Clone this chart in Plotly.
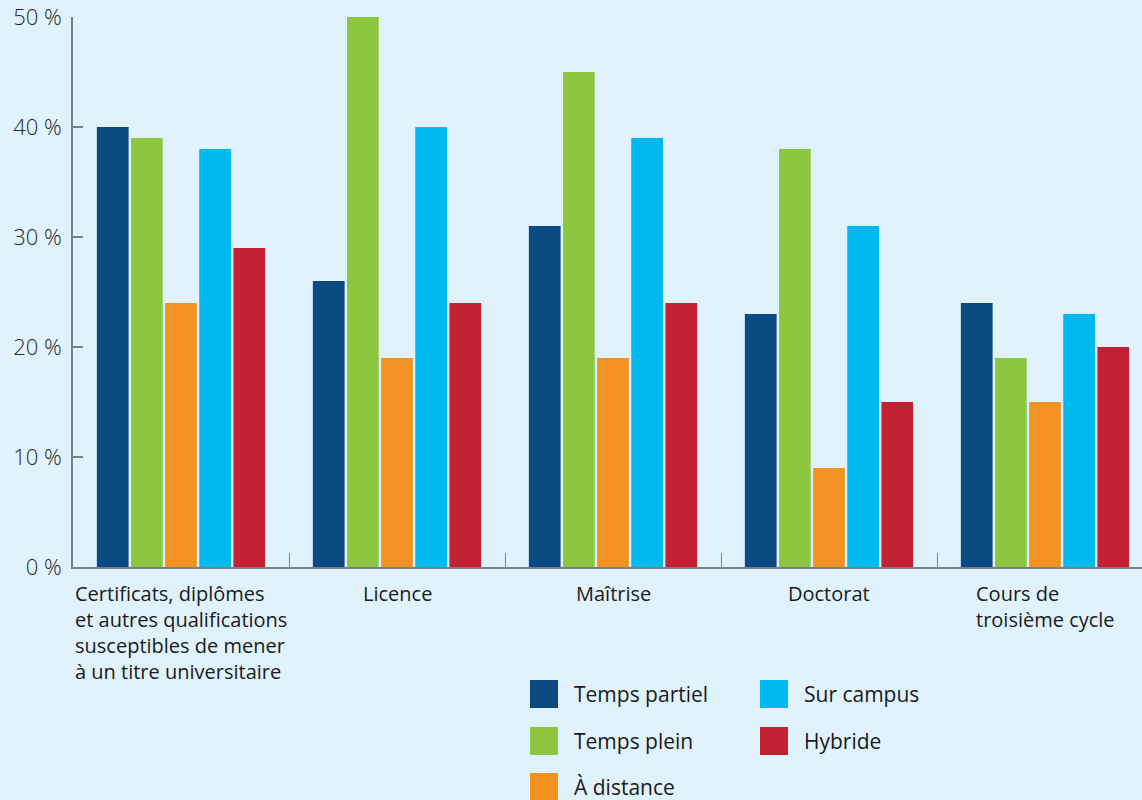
import plotly.graph_objects as go

categories = [
    "Certificats, diplômes<br>et autres qualifications<br>susceptibles de mener<br>à un titre universitaire",
    "Licence",
    "Maîtrise",
    "Doctorat",
    "Cours de<br>troisième cycle",
]
series_names = ["Temps partiel", "Temps plein", "À distance", "Sur campus", "Hybride"]
temps_partiel = [40, 26, 31, 23, 24]
temps_plein = [39, 50, 45, 38, 19]
a_distance = [24, 19, 19, 9, 15]
sur_campus = [38, 40, 39, 31, 23]
hybride = [29, 24, 24, 15, 20]
series_values = [temps_partiel, temps_plein, a_distance, sur_campus, hybride]
colors = ["#0a4a80", "#8dc63f", "#f29222", "#00b9f1", "#c42033"]
y_ticks = [0, 10, 20, 30, 40, 50]
y_tick_labels = ["0 %", "10 %", "20 %", "30 %", "40 %", "50 %"]

BG = "#e0f2fc"
FONT = "Open Sans"
W, H = 1142, 800
L, R, T, B = 73, 0, 17, 233
PW, PH = W - L - R, H - T - B

fig = go.Figure()
x_idx = list(range(len(categories)))
for name, vals, col in zip(series_names, series_values, colors):
    fig.add_trace(go.Bar(x=x_idx, y=vals, name=name, marker=dict(color=col, line=dict(width=0)),
                         showlegend=False))

# category labels (left-aligned multi-line)
for i, cat in enumerate(categories):
    fig.add_annotation(x=i, y=0, xref="x", yref="paper", text=cat, showarrow=False,
                       xanchor="center", yanchor="top", align="left", yshift=-11,
                       font=dict(family=FONT, size=20, color="#1a1a1a"))

# legend: two columns, column-major
def px2x(px):
    return (px - L) / PW

def py2y(py):
    return (H - B - py) / PH

col_x = [530, 760]
row_y = [680, 727, 773]
sw = 28
for k, (name, col) in enumerate(zip(series_names, colors)):
    c, r = divmod(k, 3)
    x0, y0 = col_x[c], row_y[r]
    fig.add_shape(type="rect", xref="paper", yref="paper",
                  x0=px2x(x0), x1=px2x(x0 + sw), y0=py2y(y0), y1=py2y(y0 + sw),
                  fillcolor=col, line=dict(width=0), layer="above")
    fig.add_annotation(x=px2x(x0 + 42), y=py2y(y0 + sw / 2), xref="paper", yref="paper",
                       text=name, showarrow=False, xanchor="left", yanchor="middle",
                       font=dict(family=FONT, size=21, color="#1a1a1a"))

fig.update_layout(
    width=W, height=H,
    margin=dict(l=L, r=R, t=T, b=B, pad=0),
    paper_bgcolor=BG, plot_bgcolor=BG,
    barmode="group", bargap=0.21, bargroupgap=0.07,
    font=dict(family=FONT, size=20, color="#333333"),
    xaxis=dict(range=[-0.5, 4.5 - 11 / 216], tickvals=[0.5, 1.5, 2.5, 3.5], ticktext=["", "", "", ""],
               ticks="inside", ticklen=14, tickcolor="#7a7f85", tickwidth=1,
               showline=True, linecolor="#7a7f85", linewidth=1.5, showgrid=False, zeroline=False,
               fixedrange=True),
    yaxis=dict(range=[0, 50], tickvals=y_ticks, ticktext=y_tick_labels,
               ticks="inside", ticklen=10, tickcolor="#7a7f85", tickwidth=1.5,
               showline=True, linecolor="#7a7f85", linewidth=1.5, showgrid=False, zeroline=False,
               ticklabelstandoff=5,
               tickfont=dict(family=FONT, size=22, color="#2a2a2a", weight=300)),
)

fig.write_html("out.html")
